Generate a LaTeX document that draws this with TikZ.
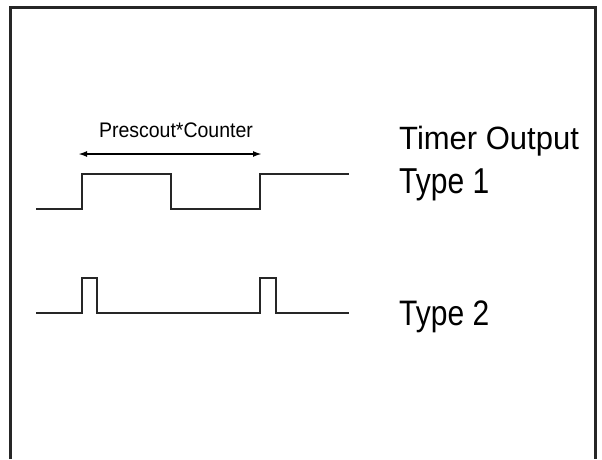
\documentclass[tikz,border=0pt]{standalone}
\usepackage{fontspec}
\setmainfont{Liberation Sans}
\usetikzlibrary{arrows.meta}
\tikzset{
  wave/.style={line width=1.8pt, black!85},
  lbl/.style={anchor=base west, inner sep=0pt, font=\fontsize{30}{30}\selectfont},
}
\newcommand{\tallw}[2]{\scalebox{1}[#1]{#2}}
\begin{document}
\begin{tikzpicture}[x=1pt, y=-1pt]
\useasboundingbox (0,0) rectangle (602,459);
\draw[line width=3pt, black!85] (10,459) -- (10,7.5) -- (595.5,7.5) -- (595.5,459);

% period arrow
\coordinate (pstart) at (78,154);
\coordinate (pend) at (262,154);
\draw[line width=2pt, {Latex[length=9pt,width=6pt]}-{Latex[length=9pt,width=6pt]}] (pstart) -- (pend);
\node[anchor=base, inner sep=0pt, font=\fontsize{19.5}{20}\selectfont] (period) at (176,137) {\tallw{1.08}{Prescout*Counter}};

% type 1
\draw[wave] (36,209) -- (82,209) -- (82,174) -- (171,174) -- (171,209) -- (260,209) -- (260,174) -- (349,174);
% type 2
\draw[wave] (36,313) -- (82,313) -- (82,278) -- (97,278) -- (97,313) -- (260,313) -- (260,278) -- (276,278) -- (276,313) -- (349,313);

\node[lbl, font=\fontsize{31}{31}\selectfont] (title) at (399,149) {\tallw{1.04}{Timer Output}};
\node[lbl] (type1) at (399,193) {\tallw{1.2}{Type 1}};
\node[lbl] (type2) at (399,325) {\tallw{1.18}{Type 2}};
\end{tikzpicture}
\end{document}
